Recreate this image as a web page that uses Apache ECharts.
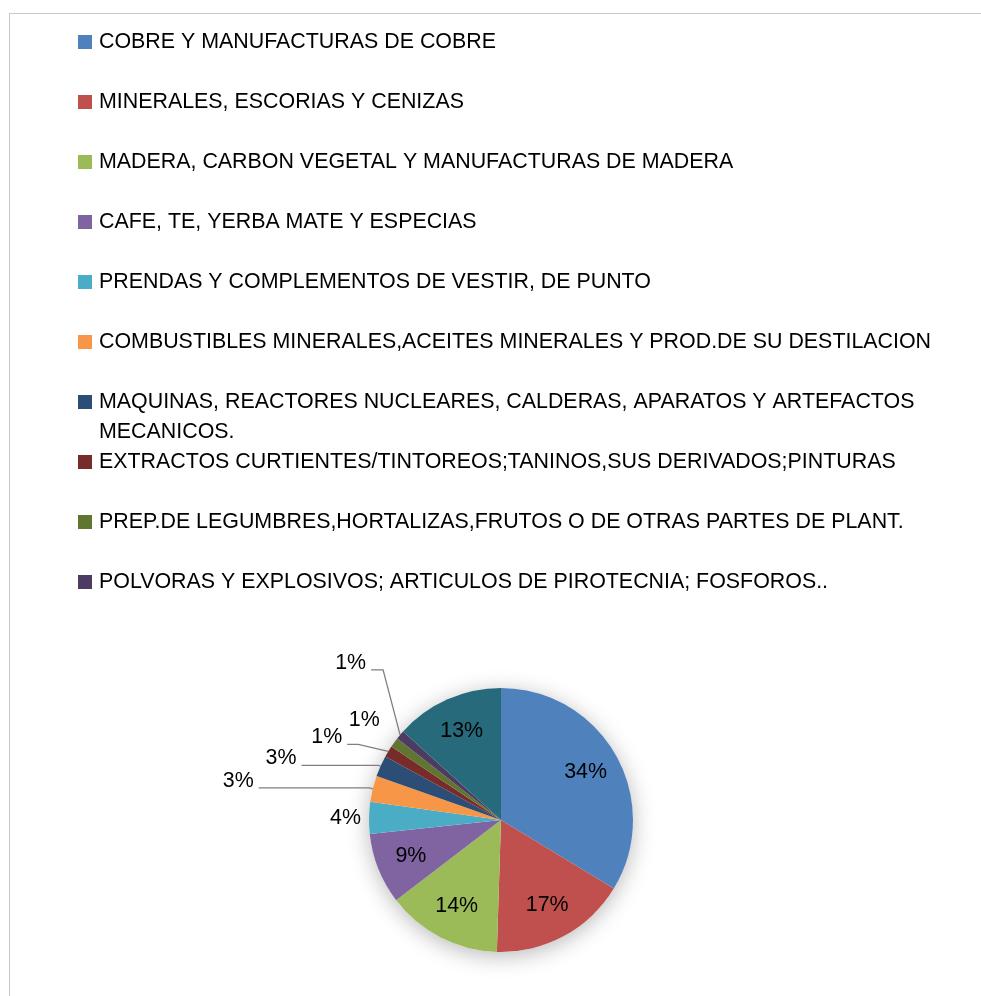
<!DOCTYPE html>
<html>
<head>
<meta charset="utf-8">
<script src="https://cdn.jsdelivr.net/npm/echarts@6/dist/echarts.min.js"></script>
<style>
  html, body { margin: 0; padding: 0; background: #fff; }
  #wrap { position: relative; width: 981px; height: 996px; overflow: hidden; }
  #frame { position: absolute; left: 9px; top: 13px; width: 1000px; height: 1000px; border: 1px solid #c8c8c8; }
  #chart { position: absolute; left: 0; top: 0; width: 981px; height: 996px; }
</style>
</head>
<body>
<div id="wrap">
  <div id="frame"></div>
  <div id="chart"></div>
</div>
<script>
const nombres = [
  'COBRE Y MANUFACTURAS DE COBRE',
  'MINERALES, ESCORIAS Y CENIZAS',
  'MADERA, CARBON VEGETAL Y MANUFACTURAS DE MADERA',
  'CAFE, TE, YERBA MATE Y ESPECIAS',
  'PRENDAS Y COMPLEMENTOS DE VESTIR, DE PUNTO',
  'COMBUSTIBLES MINERALES,ACEITES MINERALES Y PROD.DE SU DESTILACION',
  'MAQUINAS, REACTORES NUCLEARES, CALDERAS, APARATOS Y ARTEFACTOS MECANICOS.',
  'EXTRACTOS CURTIENTES/TINTOREOS;TANINOS,SUS DERIVADOS;PINTURAS',
  'PREP.DE LEGUMBRES,HORTALIZAS,FRUTOS O DE OTRAS PARTES DE PLANT.',
  'POLVORAS Y EXPLOSIVOS; ARTICULOS DE PIROTECNIA; FOSFOROS..',
  'OTROS'
];
const valores = [33.7, 16.8, 14.1, 8.7, 3.9, 3.2, 2.6, 1.4, 1.2, 1.1, 13.3];
const colores = ['#4F81BD', '#C0504D', '#9BBB59', '#8064A2', '#4BACC6', '#F79646',
                 '#2C4D75', '#772C2A', '#5F7530', '#4D3B62', '#276A7C'];
// slices whose label sits inside the pie
const dentro = [0, 1, 2, 3, 10];

const FONT = '"Liberation Sans", Arial, sans-serif';
const FS = 21.4;
const CENTER = [501, 820];
const R = 132;

// callouts: [elbow dx, elbow dy, horizontal run] relative to the slice edge
const callouts = {
  5: [-3, -1, 111],
  6: [-2, -0.6, 77],
  7: [-30, -7, 11],
  8: [-9.5, -15, 0],
  9: [-17, -65, 12]
};

const pct = p => Math.round(p.percent) + '%';

// the legend is split in three blocks so the wrapped entry (index 6)
// keeps its first line level with its swatch, like in Excel
function leyenda(desde, hasta, top, fmt) {
  return {
    data: nombres.slice(desde, hasta),
    orient: 'vertical',
    left: 78,
    top: top,
    padding: 0,
    icon: 'rect',
    itemWidth: 14,
    itemHeight: 14,
    itemGap: 30,
    selectedMode: false,
    formatter: fmt,
    textStyle: {
      fontFamily: FONT, fontSize: FS, color: '#000',
      width: 860, lineHeight: 30, overflow: 'break', padding: [0, 0, 0, 2]
    }
  };
}

const chart = echarts.init(document.getElementById('chart'), null, { renderer: 'canvas' });

chart.setOption({
  animation: false,
  color: colores,
  legend: [
    leyenda(0, 6, 27),
    // empty first line keeps the first text line centred on the swatch
    leyenda(6, 7, 357, n => '\n' + n),
    leyenda(7, 10, 447)
  ],
  series: [
    {
      // soft shadow under the pie
      type: 'pie', silent: true, center: CENTER, radius: [0, R], z: 1,
      label: { show: false }, labelLine: { show: false },
      itemStyle: { color: '#fff', shadowBlur: 22, shadowOffsetY: 4, shadowColor: 'rgba(0,0,0,0.28)' },
      data: [{ value: 100, name: 'sombra' }]
    },
    {
      type: 'pie', center: CENTER, radius: [0, R], startAngle: 90, clockwise: true,
      avoidLabelOverlap: false, z: 2,
      label: { show: false, fontFamily: FONT, fontSize: FS, color: '#000', formatter: pct },
      labelLine: { lineStyle: { color: '#7f7f7f', width: 1.3 } },
      emphasis: { disabled: true },
      data: nombres.map((n, i) => {
        const d = { name: n, value: valores[i], itemStyle: { color: colores[i] } };
        if (dentro.indexOf(i) < 0) {
          d.label = { show: true, position: 'outside' };
          d.labelLine = { show: i !== 4 && i !== 8, length: 0, length2: 3 };
        }
        return d;
      }),
      labelLayout: function (p) {
        const c = callouts[p.dataIndex];
        if (!c || !p.labelLinePoints) return;
        const e = p.labelLinePoints[0];
        const elbow = [e[0] + c[0], e[1] + c[1]];
        const end = [elbow[0] - c[2], elbow[1]];
        return {
          x: end[0] - 5, y: end[1] - 7, align: 'right', verticalAlign: 'middle',
          labelLinePoints: [e, elbow, end]
        };
      }
    },
    {
      // label ring for the large slices
      type: 'pie', silent: true, center: CENTER, radius: [56, R], startAngle: 90, clockwise: true,
      avoidLabelOverlap: false, z: 3,
      itemStyle: { color: 'rgba(0,0,0,0)' },
      labelLine: { show: false },
      emphasis: { disabled: true },
      label: { show: false, position: 'inside', fontFamily: FONT, fontSize: FS, color: '#000', formatter: pct },
      data: nombres.map((n, i) => ({
        name: n, value: valores[i],
        label: { show: dentro.indexOf(i) >= 0 }
      }))
    }
  ]
});
</script>
</body>
</html>
